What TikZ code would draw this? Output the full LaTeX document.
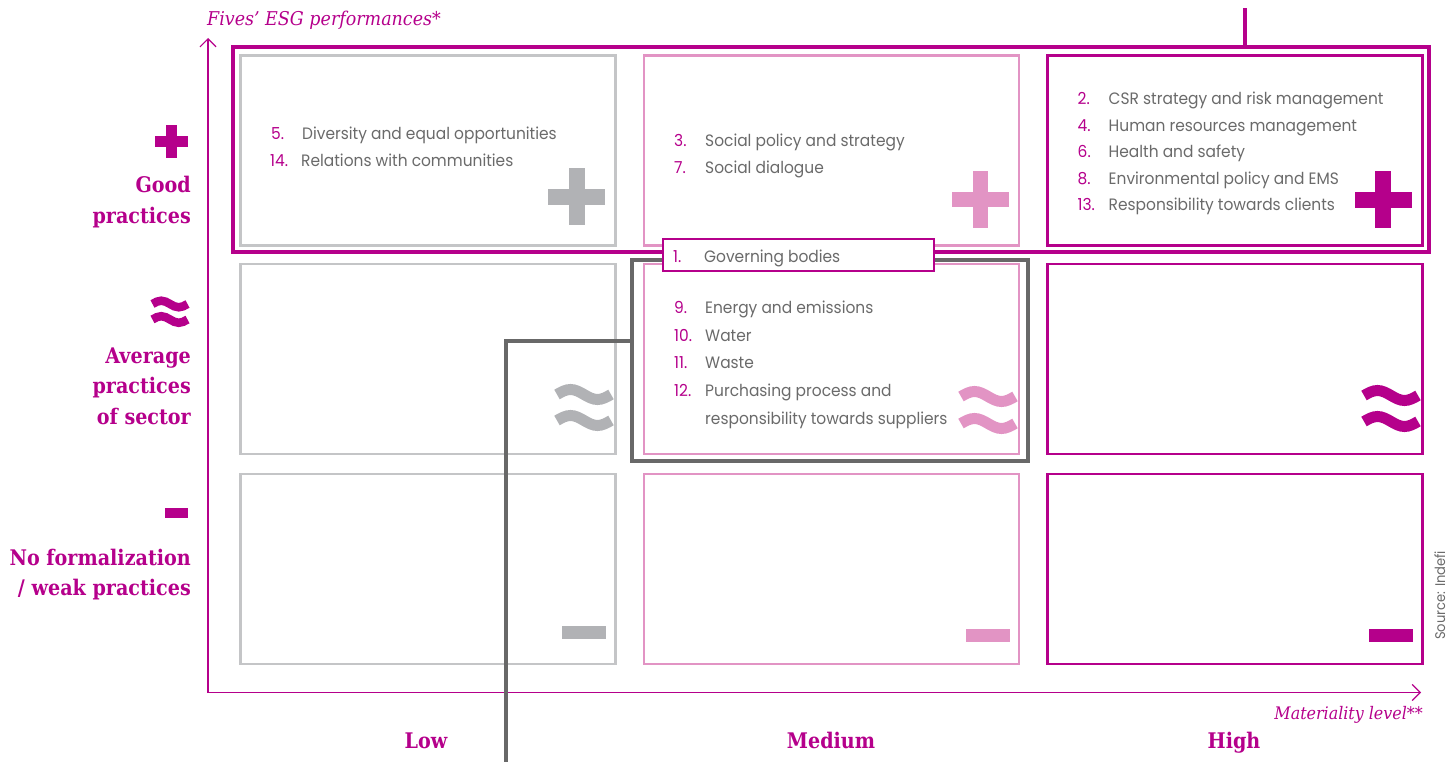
\documentclass[tikz,border=0pt]{standalone}
\usepackage{fontspec}
\usetikzlibrary{arrows.meta}
\newfontfamily\bodyfont{Poppins}[FakeStretch=0.935]
\newfontfamily\headfont{DejaVu Serif}[FakeStretch=0.89]
\newfontfamily\itfont{DejaVu Serif}[FakeStretch=0.92]
\definecolor{mag}{HTML}{B5008B}
\definecolor{pinkc}{HTML}{E294C4}
\definecolor{lgray}{HTML}{C4C5C7}
\definecolor{sgray}{HTML}{B1B2B5}
\definecolor{tgray}{HTML}{6A6A6A}
\definecolor{dgray}{HTML}{686868}
\newcommand\ApproxSym[7]{%
  \draw[#6, line width=#5] (#1,#2) sin ++(#3/4,-#4) cos ++(#3/4,#4) sin ++(#3/4,#4) cos ++(#3/4,-#4);
  \draw[#6, line width=#5] (#1,#2+#7) sin ++(#3/4,-#4) cos ++(#3/4,#4) sin ++(#3/4,#4) cos ++(#3/4,-#4);}
\newcommand\PlusSym[5]{% cx cy size thick color
  \fill[#5] (#1-#3/2,#2-#4/2) rectangle (#1+#3/2,#2+#4/2);
  \fill[#5] (#1-#4/2,#2-#3/2) rectangle (#1+#4/2,#2+#3/2);}
\begin{document}
\begin{tikzpicture}[x=1pt,y=-1pt,
  cell/.style={draw, line width=2.4pt, minimum width=375pt, minimum height=190pt, inner sep=0pt},
  item/.style={anchor=base west, inner sep=0pt, text=tgray, font=\bodyfont\fontsize{16.5}{18}\selectfont},
  rowlab/.style={anchor=base east, inner sep=0pt, text=mag, font=\headfont\bfseries\fontsize{21.5}{25}\selectfont},
  collab/.style={anchor=base, inner sep=0pt, text=mag, font=\headfont\bfseries\fontsize{21.5}{25}\selectfont},
  axlab/.style={inner sep=0pt, text=mag, font=\itfont\itshape\fontsize{19}{22}\selectfont},
  axis/.style={draw=mag, line width=1.3pt, -{Straight Barb[length=8pt,width=16pt,line width=1.2pt]}}
]
\useasboundingbox (0,0) rectangle (1456,762);
\newcommand\num[1]{\makebox[31pt][l]{\textcolor{mag}{#1}}}

% axes
\coordinate (origin) at (208,692.5);
\coordinate (ytip) at (208,38);
\coordinate (xtip) at (1421,692.5);
\draw[axis] (origin) -- (ytip);
\draw[axis] (origin) -- (xtip);

% grid cells
\node[cell, draw=lgray] (c11) at (427.8,150.5) {};
\node[cell, draw=pinkc] (c21) at (831.5,150.5) {};
\node[cell, draw=mag]   (c31) at (1234.8,150.5) {};
\node[cell, draw=lgray] (c12) at (427.8,359) {};
\node[cell, draw=pinkc] (c22) at (831.5,359) {};
\node[cell, draw=mag]   (c32) at (1234.8,359) {};
\node[cell, draw=lgray] (c13) at (427.8,569) {};
\node[cell, draw=pinkc] (c23) at (831.5,569) {};
\node[cell, draw=mag]   (c33) at (1234.8,569) {};

% symbols in cells
\PlusSym{576.7}{197}{57}{16}{sgray}
\PlusSym{980.7}{199.7}{57}{15.5}{pinkc}
\PlusSym{1383.3}{199.7}{57}{16}{mag}
\ApproxSym{557}{394.5}{54}{5}{11}{sgray}{26}
\ApproxSym{961}{396.5}{54}{5}{11}{pinkc}{27}
\ApproxSym{1364}{395.5}{54}{5}{11}{mag}{26}
\fill[sgray] (562,626) rectangle (606,639);
\fill[pinkc] (966,629) rectangle (1010,641.5);
\fill[mag] (1369,629) rectangle (1413,641.5);

% highlight outlines
\node[draw=mag, line width=4.5pt, minimum width=1196pt, minimum height=205pt, inner sep=0pt] (magout) at (831,149.5) {};
\node[draw=dgray, line width=4pt, minimum width=396pt, minimum height=201pt, inner sep=0pt] (grayout) at (830,360.5) {};
\coordinate (topend) at (1244.5,8);
\draw[mag, line width=4pt] (topend |- magout.north) -- (topend);
\coordinate (gj) at (506,341);
\coordinate (botend) at (506,762);
\draw[dgray, line width=4.5pt] (grayout.west |- gj) -- (gj) -- (botend);

% governing bodies box
\node[draw=mag, fill=white, line width=2.2pt, minimum width=271pt, minimum height=32pt, inner sep=0pt] (gov) at (798.5,255) {};
\node[item] (i1) at (673,262.3) {\num{1.}Governing bodies};

% items
\node[item] (i5) at (271,140) {\num{5.}Diversity and equal opportunities};
\node[item] (i14) at (270,167) {\num{14.}Relations with communities};
\node[item] (i3) at (674,146.5) {\num{3.}Social policy and strategy};
\node[item] (i7) at (674,173.5) {\num{7.}Social dialogue};
\node[item] (i2) at (1077.5,105) {\num{2.}CSR strategy and risk management};
\node[item] (i4) at (1077.5,131.5) {\num{4.}Human resources management};
\node[item] (i6) at (1077.5,158) {\num{6.}Health and safety};
\node[item] (i8) at (1077.5,184.3) {\num{8.}Environmental policy and EMS};
\node[item] (i13) at (1077.5,210.7) {\num{13.}Responsibility towards clients};
\node[item] (i9) at (674,313.3) {\num{9.}Energy and emissions};
\node[item] (i10) at (674,341) {\num{10.}Water};
\node[item] (i11) at (674,368.3) {\num{11.}Waste};
\node[item] (i12) at (674,396.7) {\num{12.}Purchasing process and};
\node[item] (i12b) at (705,424.3) {responsibility towards suppliers};

% row labels
\PlusSym{171.7}{141.5}{33.5}{10.5}{mag}
\node[rowlab] (r1a) at (191,193) {Good};
\node[rowlab] (r1b) at (191,223.5) {practices};
\ApproxSym{152.5}{304}{35}{3.3}{8.5}{mag}{15.5}
\node[rowlab] (r2a) at (191,363.3) {Average};
\node[rowlab] (r2b) at (191,393.3) {practices};
\node[rowlab] (r2c) at (191,424.3) {of sector};
\fill[mag] (165,508.3) rectangle (187.7,517.7);
\node[rowlab] (r3a) at (191,565) {No formalization};
\node[rowlab] (r3b) at (191,595) {/ weak practices};

% column labels
\node[collab] (lLow) at (426,748) {Low};
\node[collab] (lMed) at (831,748) {Medium};
\node[collab] (lHigh) at (1234,748) {High};

% axis labels
\node[axlab, anchor=base west] (ylab) at (207,26) {Fives’ ESG performances*};
\node[axlab, anchor=base east, font=\itfont\itshape\fontsize{17.3}{22}\selectfont] (xlab) at (1423,719) {Materiality level**};

% source
\node[rotate=90, anchor=base west, inner sep=0pt, text=tgray, font=\bodyfont\fontsize{14}{16}\selectfont] (src) at (1445,640) {Source: Indefi};
\end{tikzpicture}
\end{document}
